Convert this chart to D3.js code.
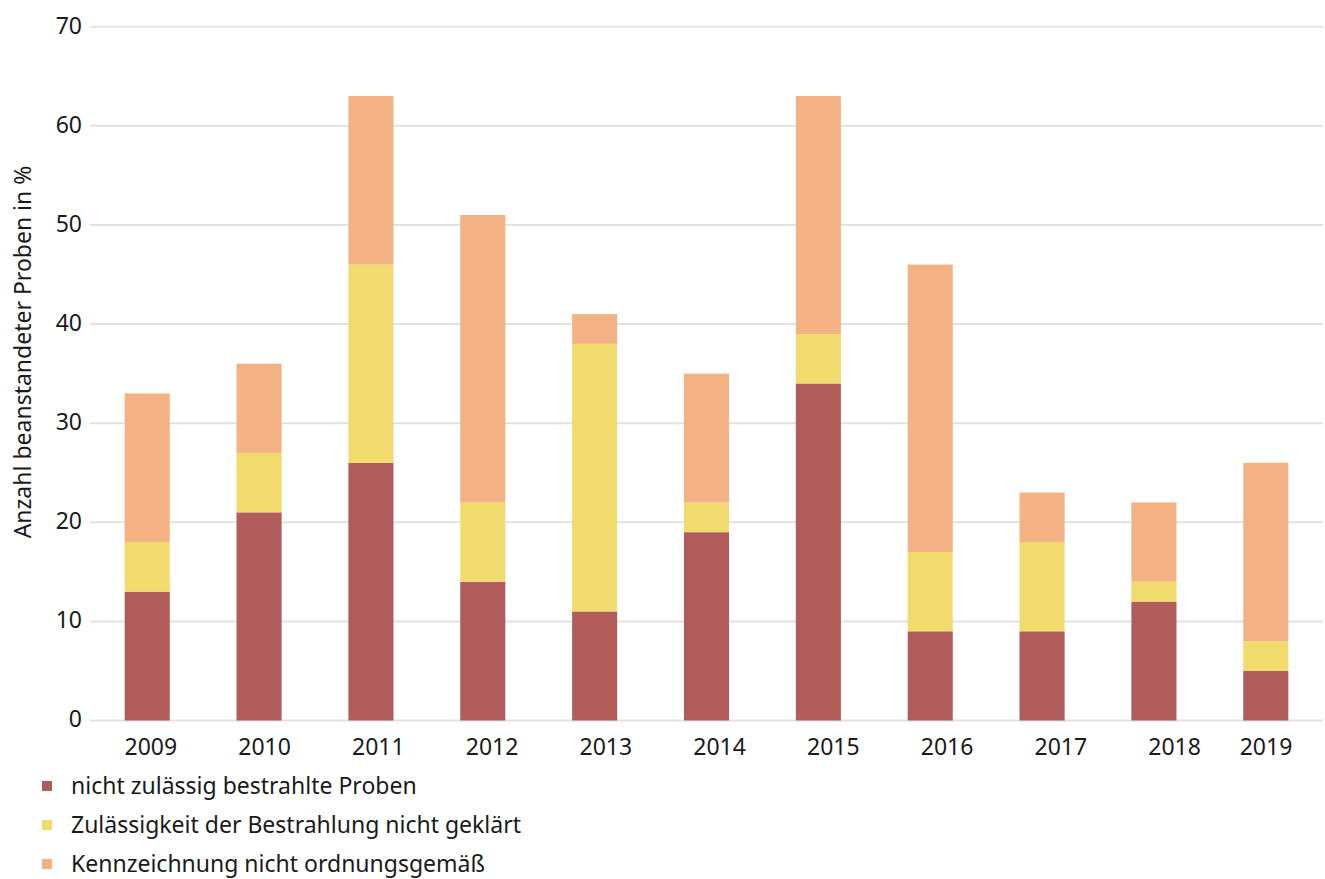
<!DOCTYPE html>
<html><head><meta charset="utf-8">
<script src="https://cdn.jsdelivr.net/npm/d3@7"></script>
<style>
body{margin:0;background:#fff;}
svg text{font-family:"Noto Sans",sans-serif;fill:#1a1a1a;}
</style></head>
<body>
<svg id="c" width="1325" height="879"></svg>
<script>
const years = ["2009","2010","2011","2012","2013","2014","2015","2016","2017","2018","2019"];
const nichtZulaessig = [13,21,26,14,11,19,34,9,9,12,5];
const nichtGeklaert  = [5,6,20,8,27,3,5,8,9,2,3];
const kennzeichnung  = [15,9,17,29,3,13,24,29,5,8,18];
const seriesNames = ["nicht zulässig bestrahlte Proben","Zulässigkeit der Bestrahlung nicht geklärt","Kennzeichnung nicht ordnungsgemäß"];
const colors = ["#b15c5b","#f2db6d","#f4b184"];
const yTicks = [0,10,20,30,40,50,60,70];
const yTitle = "Anzahl beanstandeter Proben in %";

const svg = d3.select("#c");
const x = d3.scaleBand().domain(years).range([90,1323]).paddingInner(0.597).paddingOuter(0.31);
const xLabel = d3.scalePoint().domain(years).range([150.8,1288.3]);
const y = d3.scaleLinear().domain([0,70]).range([720.5,26.7]);

// grid
svg.append("g").selectAll("line").data(yTicks).join("line")
  .attr("x1",90).attr("x2",1323)
  .attr("y1",d=>y(d)).attr("y2",d=>y(d))
  .attr("stroke","#e2e2e2").attr("stroke-width",2);

// y tick labels
svg.append("g").selectAll("text").data(yTicks).join("text")
  .attr("x",82).attr("y",d=>y(d)).attr("dy","0.3em")
  .attr("text-anchor","end").style("font-size","23px").text(d=>d);

// stacked bars
const table = years.map((yr,i)=>({year:yr,a:nichtZulaessig[i],b:nichtGeklaert[i],c:kennzeichnung[i]}));
const stack = d3.stack().keys(["a","b","c"])(table);
svg.append("g").selectAll("g").data(stack).join("g")
  .attr("fill",(d,i)=>colors[i])
  .selectAll("rect").data(d=>d).join("rect")
  .attr("x",d=>x(d.data.year)).attr("width",x.bandwidth())
  .attr("y",d=>y(d[1])).attr("height",d=>y(d[0])-y(d[1]));

// x labels (last label kept inside the frame)
svg.append("g").selectAll("text").data(years).join("text")
  .attr("x",d=>Math.min(xLabel(d),1266)).attr("y",755)
  .attr("text-anchor","middle").style("font-size","23px").text(d=>d);

// y title
svg.append("text").attr("transform","translate(31,352) rotate(-90)")
  .attr("text-anchor","middle").style("font-size","23px").text(yTitle);

// legend
const lg = svg.append("g").selectAll("g").data(seriesNames).join("g")
  .attr("transform",(d,i)=>`translate(42,${786+i*39})`);
lg.append("rect").attr("x",0).attr("y",-5).attr("width",10).attr("height",10).attr("fill",(d,i)=>colors[i]);
lg.append("text").attr("x",29).attr("y",0).attr("dy","0.35em").style("font-size","23px").text(d=>d);
</script>
</body></html>
